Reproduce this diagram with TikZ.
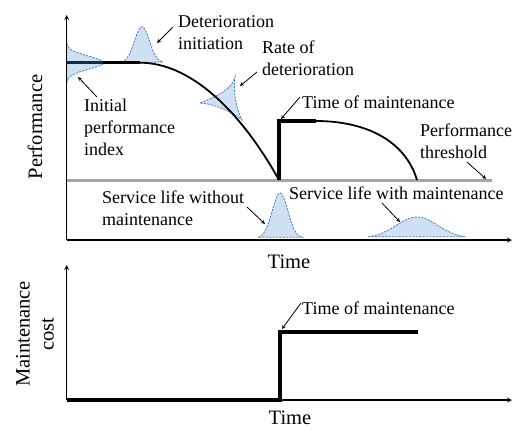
\documentclass[tikz,border=0pt]{standalone}
\usepackage{fontspec}
\setmainfont{Liberation Serif}
\newfontfamily\figfont{Liberation Serif}
\definecolor{distfill}{RGB}{207,224,242}
\definecolor{distline}{RGB}{74,126,192}
\definecolor{threshgray}{RGB}{165,165,165}
\definecolor{overlap}{RGB}{24,42,70}

\begin{document}
\begin{tikzpicture}[x=1pt,y=-1pt,>=stealth,
  dist/.style={fill=distfill,draw=distline,line width=0.8pt,dash pattern=on 2.2pt off 1.2pt},
  ann/.style={font=\figfont\fontsize{18}{22}\selectfont,inner sep=0pt,align=left,anchor=west},
  axlab/.style={font=\figfont\fontsize{20.5}{24}\selectfont,inner sep=0pt,align=center},
  pointer/.style={->,line width=0.8pt}]
\useasboundingbox (0,0) rectangle (514,432);

% performance profile
\draw[threshgray,line width=3pt] (66.7,180) -- (492,180);

\filldraw[dist] plot[domain=40:87,samples=40] ({66.7+37*exp(-pow((\x-62.7)/9,2))},\x) -- cycle;
\filldraw[dist] plot[domain=118:163,samples=40] (\x,{62.7-36*exp(-pow((\x-142)/10.5,2))}) -- cycle;
\filldraw[dist] (200,103) .. controls (215,97) and (232,90) .. (235,77)
  .. controls (233,92) and (236,108) .. (242,120)
  .. controls (232,112) and (215,104) .. cycle;
\filldraw[dist] plot[domain=258:302,samples=40] (\x,{238-45*exp(-pow((\x-280)/11,2))}) -- cycle;
\filldraw[dist] plot[domain=368:465,samples=50] (\x,{238-21*exp(-pow((\x-417)/29,2))}) -- cycle;

\draw[line width=3pt] (66.7,62.7) -- (140,62.7);
\draw[overlap,line width=3pt] (66.7,62.7) -- (103,62.7);
\draw[line width=1.8pt] (140,62.7) .. controls (190,62.7) and (240,110) .. (279,180);
\draw[line width=3.3pt] (279,180) -- (279,121) -- (316,121);
\draw[line width=1.8pt] (316,121) .. controls (365,121) and (405,140) .. (417,180);

\draw[->,line width=1.2pt] (66.7,240) -- (66.7,15);
\draw[->,line width=1.2pt] (66.7,240) -- (512,240);

\node[axlab,rotate=90] (perf) at (35,127) {Performance};
\node[axlab] (time1) at (289,262) {Time};

\node[ann] (initiation) at (178,32.5) {Deterioration\\initiation};
\node[ann] (rate) at (262,58.5) {Rate of\\deterioration};
\node[ann] (initial) at (84,127) {Initial\\performance\\index};
\node[ann] (tmaint1) at (302,102) {Time of maintenance};
\node[ann] (thresh) at (420,141) {Performance\\threshold};
\node[ann] (without) at (102,208) {Service life without\\maintenance};
\node[ann] (with) at (289,193) {Service life with maintenance};

\coordinate (initiationA) at (173,27);   \coordinate (initiationB) at (157,43);
\coordinate (rateA) at (257,72);         \coordinate (rateB) at (240,86);
\coordinate (initialA) at (97,97);       \coordinate (initialB) at (78,77);
\coordinate (tmaint1A) at (300,97);      \coordinate (tmaint1B) at (281,119);
\coordinate (threshA) at (467,162);      \coordinate (threshB) at (486,179);
\coordinate (withoutA) at (247,207);     \coordinate (withoutB) at (265,224);
\coordinate (withA) at (382,203);        \coordinate (withB) at (400,222);

\draw[pointer] (initiationA) -- (initiationB);
\draw[pointer] (rateA) -- (rateB);
\draw[pointer] (initialA) -- (initialB);
\draw[pointer] (tmaint1A) -- (tmaint1B);
\draw[pointer] (threshA) -- (threshB);
\draw[pointer] (withoutA) -- (withoutB);
\draw[pointer] (withA) -- (withB);

% maintenance cost
\draw[->,line width=1.2pt] (66.7,400) -- (66.7,265);
\draw[->,line width=1.2pt] (66.7,400) -- (512,400);
\draw[line width=3.3pt] (66.7,400) -- (280,400) -- (280,332) -- (418,332);

\node[axlab,rotate=90] (cost) at (35,334) {Maintenance\\cost};
\node[axlab] (time2) at (290,418) {Time};

\node[ann] (tmaint2) at (302,308) {Time of maintenance};
\coordinate (tmaint2A) at (301,303);     \coordinate (tmaint2B) at (282,329);
\draw[pointer] (tmaint2A) -- (tmaint2B);
\end{tikzpicture}
\end{document}
